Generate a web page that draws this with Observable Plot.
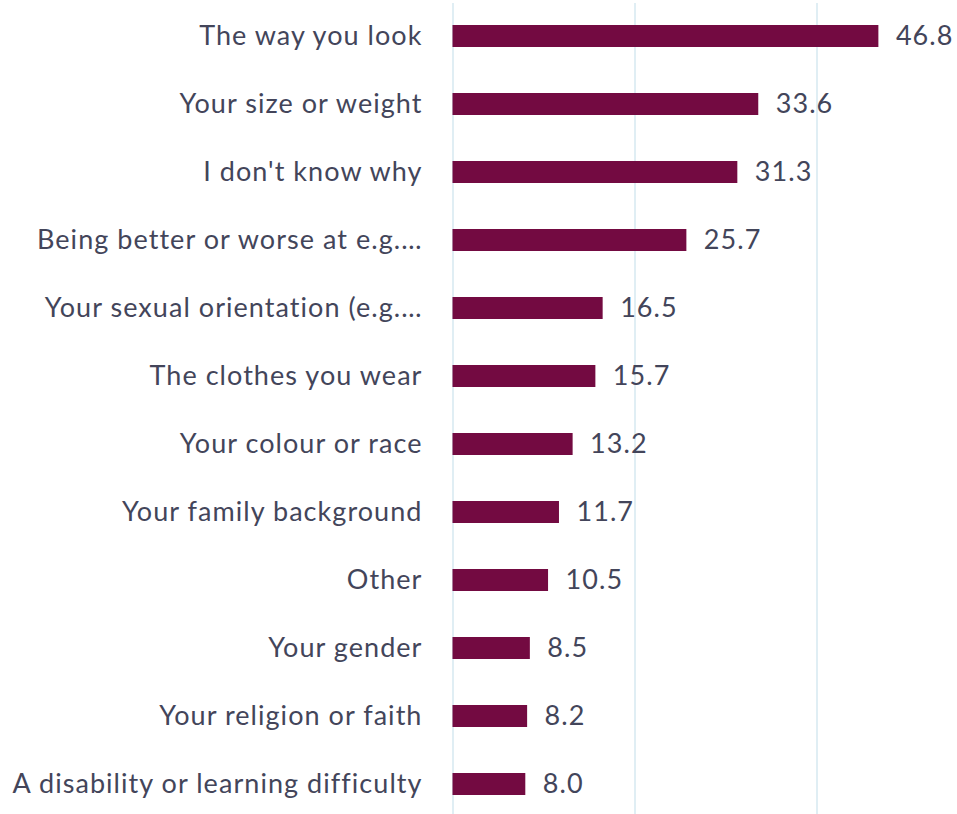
<!DOCTYPE html>
<html>
<head>
<meta charset="utf-8">
<script src="https://cdn.jsdelivr.net/npm/d3@7"></script>
<script src="https://cdn.jsdelivr.net/npm/@observablehq/plot@0.6"></script>
<style>
  html, body { margin: 0; padding: 0; background: #fff; overflow: hidden; }
</style>
</head>
<body>
<div id="chart"></div>
<script>
const categories = [
  "The way you look",
  "Your size or weight",
  "I don't know why",
  "Being better or worse at e.g.…",
  "Your sexual orientation (e.g.…",
  "The clothes you wear",
  "Your colour or race",
  "Your family background",
  "Other",
  "Your gender",
  "Your religion or faith",
  "A disability or learning difficulty"
];
const values = [46.8, 33.6, 31.3, 25.7, 16.5, 15.7, 13.2, 11.7, 10.5, 8.5, 8.2, 8.0];
const gridTicks = [0, 20, 40];

const data = categories.map((c, i) => ({category: c, value: values[i]}));
const textColor = "#43455a";

const chart = Plot.plot({
  width: 957,
  height: 814,
  marginTop: 3,
  marginBottom: 0,
  marginLeft: 452,
  marginRight: 49,
  style: {fontFamily: "Lato, sans-serif", fontSize: "27px", letterSpacing: "1.05px", color: textColor, background: "#fff"},
  x: {domain: [0, 50], range: [452.5, 907.5], axis: null},
  y: {domain: categories, range: [2, 818], paddingInner: 0.68, paddingOuter: 0.34, label: null},
  marks: [
    Plot.ruleX(gridTicks, {stroke: "#d6e9f1", strokeWidth: 1.5}),
    Plot.barX(data, {x: "value", y: "category", fill: "#730a41"}),
    Plot.text(data, {x: "value", y: "category", text: d => d3.format(".1f")(d.value), dx: 17, textAnchor: "start", fill: textColor, fontSize: 27}),
    Plot.axisY({tickSize: 0, tickPadding: 30, label: null, fontSize: 27})
  ]
});
document.getElementById("chart").appendChild(chart);
</script>
</body>
</html>
